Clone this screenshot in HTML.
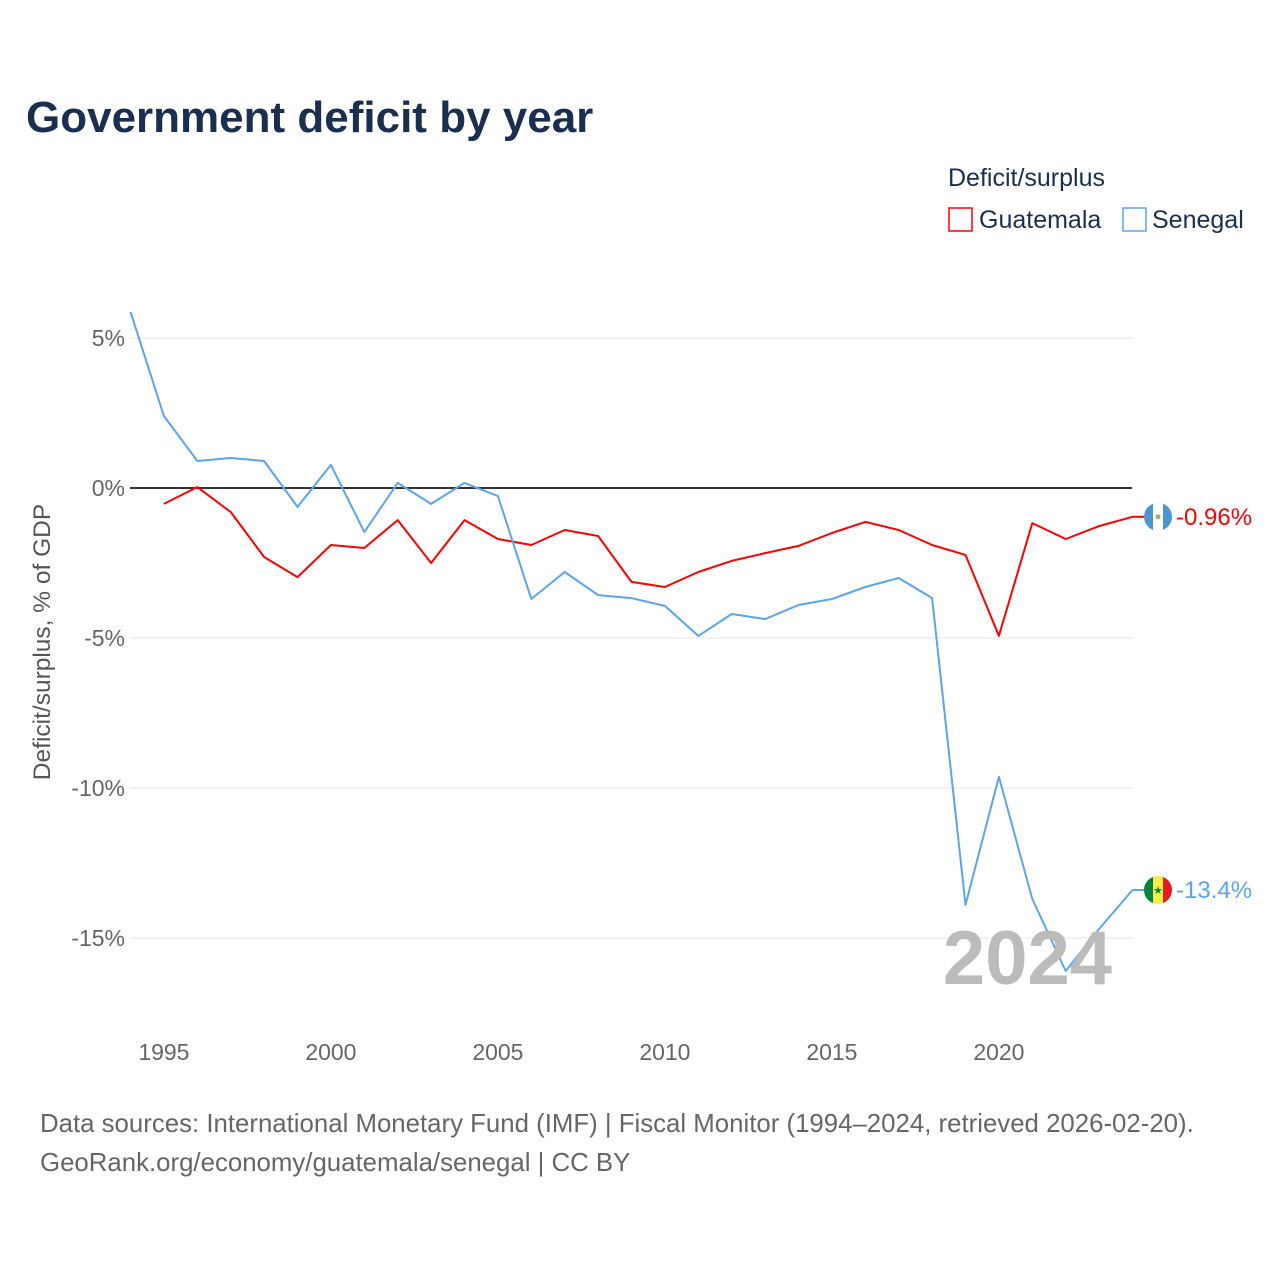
<!DOCTYPE html>
<html><head><meta charset="utf-8">
<style>
body{margin:0;background:#fff;font-family:"Liberation Sans",sans-serif;}
#wrap{position:relative;width:1280px;height:1280px;overflow:hidden;}
</style></head>
<body>
<div id="wrap">
<svg id="chart" width="1280" height="1280">
<text x="26" y="132" font-size="44" font-weight="bold" fill="#1a2e4f">Government deficit by year</text>
<text x="948" y="186" font-size="25" fill="#1a2e4f">Deficit/surplus</text>
<g><rect x="949" y="208" width="23" height="23" fill="#fff" stroke="#ff0000" stroke-width="1.5"/><text x="979" y="228" font-size="25" fill="#1a2e4f">Guatemala</text></g>
<g><rect x="1123" y="208" width="23" height="23" fill="#fff" stroke="#5aa5ec" stroke-width="1.5"/><text x="1152" y="228" font-size="25" fill="#1a2e4f">Senegal</text></g>
<text transform="translate(50,642) rotate(-90)" text-anchor="middle" font-size="24.5" fill="#555">Deficit/surplus, % of GDP</text>
<defs>
<clipPath id="clipG"><circle cx="1158" cy="516.8" r="14"/></clipPath>
<clipPath id="clipS"><circle cx="1158" cy="890" r="14"/></clipPath>
</defs>
<g id="grid"></g><g id="series"></g>
<text x="1112" y="984" text-anchor="end" font-size="76" font-weight="bold" fill="#bbb">2024</text>
<text x="40" y="1132" font-size="25.8" fill="#666">Data sources: International Monetary Fund (IMF) | Fiscal Monitor (1994–2024, retrieved 2026-02-20).</text>
<text x="40" y="1171" font-size="25.8" fill="#666">GeoRank.org/economy/guatemala/senegal | CC BY</text>
</svg>
</div>
<script>
const years=[1994,1995,1996,1997,1998,1999,2000,2001,2002,2003,2004,2005,2006,2007,2008,2009,2010,2011,2012,2013,2014,2015,2016,2017,2018,2019,2020,2021,2022,2023,2024];
const senegal=[5.87,2.4,0.9,1.0,0.9,-0.63,0.77,-1.47,0.17,-0.53,0.17,-0.27,-3.7,-2.8,-3.57,-3.67,-3.93,-4.93,-4.2,-4.37,-3.9,-3.7,-3.3,-3.0,-3.67,-13.9,-9.63,-13.7,-16.1,-14.7,-13.4];
const guatemala=[null,-0.53,0.03,-0.8,-2.3,-2.97,-1.9,-2.0,-1.07,-2.5,-1.07,-1.7,-1.9,-1.4,-1.6,-3.13,-3.3,-2.8,-2.43,-2.17,-1.93,-1.5,-1.13,-1.4,-1.9,-2.23,-4.93,-1.17,-1.7,-1.27,-0.96];
const yTicks=[5,0,-5,-10,-15];
const yTickLabels=["5%","0%","-5%","-10%","-15%"];
const xTicks=[1995,2000,2005,2010,2015,2020];
const NS="http://www.w3.org/2000/svg";
const xs=y=>130.5+(y-1994)*33.4;
const ys=v=>488-v*30;
const grid=document.getElementById('grid'),series=document.getElementById('series');
function mk(tag,attrs,parent){const e=document.createElementNS(NS,tag);for(const k in attrs)e.setAttribute(k,attrs[k]);parent.appendChild(e);return e;}
yTicks.forEach((t,i)=>{
 const l=mk('line',{x1:130,x2:1132,y1:ys(t),y2:ys(t),stroke:t===0?'#333':'#e6e6e6','stroke-width':t===0?2:1},grid);
 
 
 const tx=mk('text',{x:125,y:ys(t)+8,'text-anchor':'end','font-size':23,fill:'#666'},grid);
 tx.textContent=yTickLabels[i];
 
 
});
xTicks.forEach(t=>{
 const tx=mk('text',{x:xs(t),y:1060,'text-anchor':'middle','font-size':23,fill:'#666'},grid);
 tx.textContent=t;
 
 
});
function draw(vals,color,name){
 let d='';vals.forEach((v,i)=>{if(v===null)return;d+=(d?'L':'M')+xs(years[i]).toFixed(1)+','+ys(v).toFixed(1);});
 const p=mk('path',{d:d,fill:'none',stroke:color,'stroke-width':2,'stroke-linejoin':'round'},series);
 
 
 const last=vals[vals.length-1],ex=xs(years[years.length-1]),cx=1158,cy=ys(last);
 mk('line',{x1:ex,x2:cx-14,y1:cy,y2:cy,stroke:color,'stroke-width':2},series);
 const g=mk('g',{'clip-path':name==='guatemala'?'url(#clipG)':'url(#clipS)'},series);
 
 
 if(name==='guatemala'){
  mk('rect',{x:cx-14,y:cy-14,width:28,height:28,fill:'#4997d0'},g);
  mk('rect',{x:cx-5,y:cy-14,width:10,height:28,fill:'#fff'},g);
  mk('circle',{cx:cx,cy:cy,r:2.5,fill:'#9cb56a'},g);
 } else {
  mk('rect',{x:cx-14,y:cy-14,width:10,height:28,fill:'#00853f'},g);
  mk('rect',{x:cx-5,y:cy-14,width:10,height:28,fill:'#fdef42'},g);
  mk('rect',{x:cx+5,y:cy-14,width:10,height:28,fill:'#e31b23'},g);
  const st=mk('text',{x:cx,y:cy+4,'text-anchor':'middle','font-size':11,fill:'#00853f'},g);st.textContent='★';
 }
 const lbl=mk('text',{x:1176,y:cy+8,'font-size':24,fill:color},series);
 lbl.textContent=(Math.round(last*100)/100)+'%';
 
 
}
draw(guatemala,'#ff0000','guatemala');
draw(senegal,'#5aa5ec','senegal');
</script>
</body></html>
